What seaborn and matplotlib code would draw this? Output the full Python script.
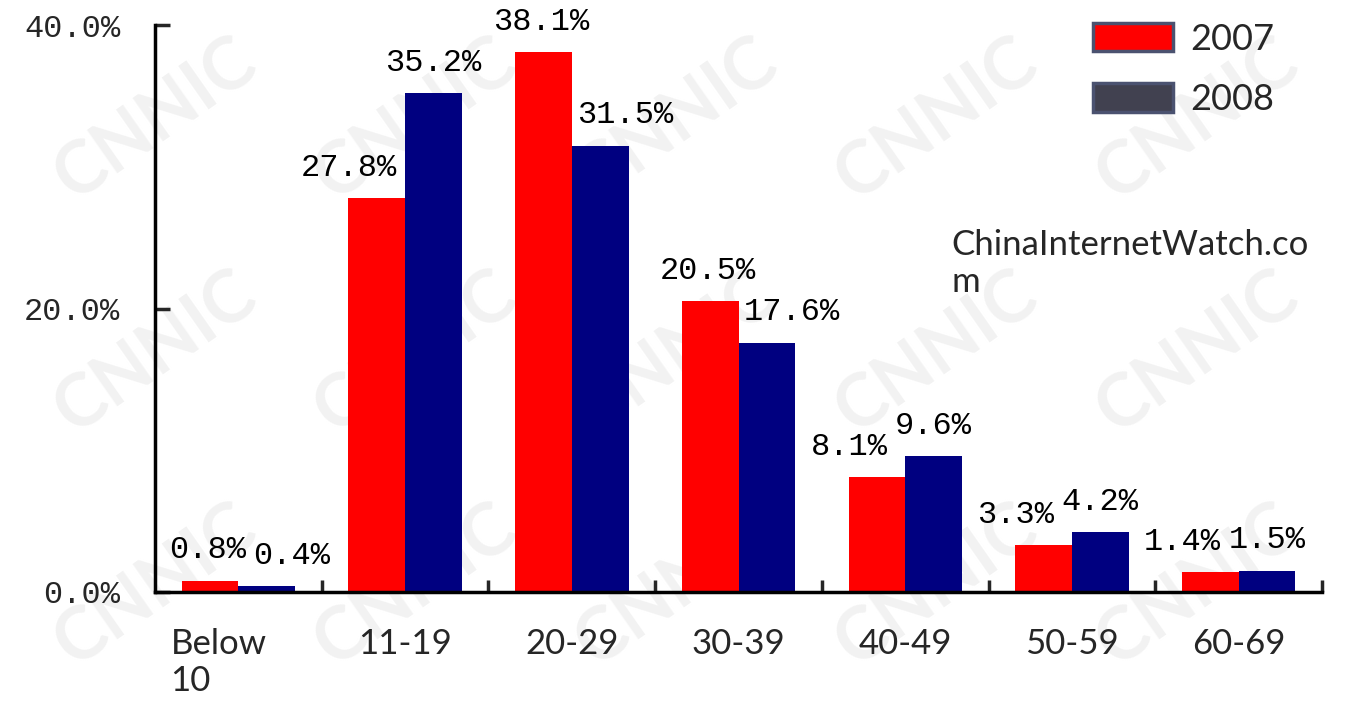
import matplotlib as mpl
mpl.use('Agg')
import matplotlib.pyplot as plt
from matplotlib.patches import Patch
from matplotlib.ticker import FixedLocator
import numpy as np
import pandas as pd
import seaborn as sns

# age groups of internet users, share of all users
ages = ["Below\n10", "11-19", "20-29", "30-39", "40-49", "50-59", "60-69"]
share_2007 = [0.8, 27.8, 38.1, 20.5, 8.1, 3.3, 1.4]
share_2008 = [0.4, 35.2, 31.5, 17.6, 9.6, 4.2, 1.5]
years = ["2007", "2008"]
y_ticks = [0, 20, 40]

df = pd.DataFrame({
    "age": ages * 2,
    "share": share_2007 + share_2008,
    "year": [years[0]] * len(ages) + [years[1]] * len(ages),
})

sns.set_style("white")
mono = "Liberation Mono"
sans = "Lato"

fig = plt.figure(figsize=(13.53, 7.06), dpi=100)

# faint CNNIC watermark behind everything
for yy in np.linspace(0.17, 0.83, 3):
    for xx in np.linspace(0.115, 0.885, 5):
        fig.text(xx, yy, "CNNIC", fontsize=52, color="#f2f2f2",
                 rotation=35, fontweight="bold", family=sans, ha="center",
                 va="center", zorder=-1)

ax = fig.add_axes([0.1146, 0.1615, 0.8625, 0.803])
ax.patch.set_alpha(0)
sns.barplot(data=df, x="age", y="share", hue="year", order=ages, hue_order=years,
            palette={"2007": "#ff0000", "2008": "#000080"}, width=0.68, gap=0,
            saturation=1, edgecolor="none", linewidth=0, legend=False, ax=ax)

ax.set_xlim(-0.5, len(ages) - 0.5)
ax.set_ylim(0, 40)
ax.set_xlabel("")
ax.set_ylabel("")

for s in ("top", "right"):
    ax.spines[s].set_visible(False)
for s in ("left", "bottom"):
    ax.spines[s].set_color("black")
    ax.spines[s].set_linewidth(2.5)

ax.yaxis.set_major_locator(FixedLocator(y_ticks))
ax.set_yticklabels([f"{v:.1f}%" for v in y_ticks], family=mono, fontsize=23)
ax.tick_params(axis="y", direction="in", length=11, width=2.5, pad=25, left=True)

ax.set_xticks(range(len(ages)))
ax.set_xticklabels(ages, family=sans, fontsize=25, multialignment="left")
ax.xaxis.set_minor_locator(FixedLocator(np.arange(0.5, len(ages), 1)))
ax.tick_params(axis="x", which="major", length=0, pad=26)
ax.tick_params(axis="x", which="minor", direction="in", length=9, width=2.5, bottom=True)
first = ax.get_xticklabels()[0]
first.set_transform(first.get_transform() + mpl.transforms.ScaledTranslation(-0.2, 0, fig.dpi_scale_trans))

# value labels, the lower of each pair is pushed sideways
red_bars, blue_bars = ax.containers[0], ax.containers[1]
for i, (rb, bb) in enumerate(zip(red_bars, blue_bars)):
    a, b = share_2007[i], share_2008[i]
    red_dx = -20 if b > a else -2
    blue_dx = 0 if b > a else 18
    for bar, val, dx in ((rb, a, red_dx), (bb, b, blue_dx)):
        ax.annotate(f"{val:.1f}%", (bar.get_x() + bar.get_width() / 2, bar.get_height()),
                    xytext=(dx, 11), textcoords="offset points", ha="center", va="bottom",
                    family=mono, fontsize=23, color="black")

handles = [Patch(facecolor="#ff0000", edgecolor="#4b5270", linewidth=2.5),
           Patch(facecolor="#414150", edgecolor="#4b5270", linewidth=2.5)]
fig.legend(handles, years, loc="upper left", bbox_to_anchor=(0.808, 0.968),
           frameon=False, prop={"family": sans, "size": 26}, handlelength=2.2,
           handleheight=0.85, handletextpad=0.5, labelspacing=0.75,
           borderpad=0, borderaxespad=0)

fig.text(0.703, 0.578, "ChinaInternetWatch.co\nm", family=sans, fontsize=25,
         ha="left", va="bottom", linespacing=1.2)

fig.savefig("out.png", dpi=100)
